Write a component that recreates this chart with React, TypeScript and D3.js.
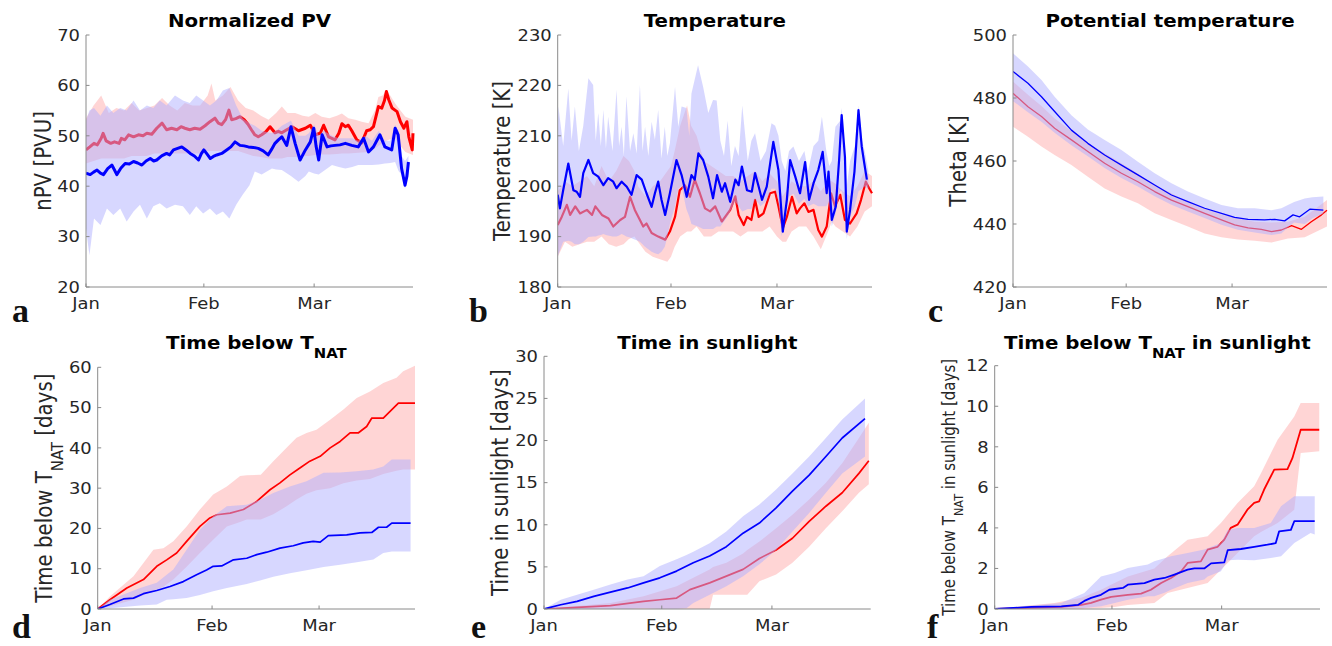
import React from 'react';
import * as d3 from 'd3';

type Pt = [number, number];
type Bd = [number, number, number];

// ---------------- shared axis data ----------------
const monthDays = [0, 31, 60];
const monthNames = ['Jan', 'Feb', 'Mar'];
const dayMax = 86;

// ---------------- a: Normalized PV ----------------
const pvTicks = [20, 30, 40, 50, 60, 70];
const pvRed: Pt[] = [[0,47.2],[1,47.8],[2.1,48.5],[3,48.2],[4,49.5],[4.5,50.5],[5.3,49],[6.5,48.5],[7.5,48.8],[8.7,48.5],[9.3,49.5],[10.2,49.2],[11.2,50.2],[12.5,49.8],[13.8,50.2],[15,50],[16,50.5],[17.3,50.3],[18.6,51.5],[20,52.5],[21.2,51.2],[22.5,51.5],[23.9,51.2],[25,51.8],[26,51.5],[27.3,51.2],[28.6,51.5],[30,51.3],[31.3,52],[32.6,52.8],[33.9,53.5],[34.8,52.5],[35.7,52.2],[36.7,53.2],[37.6,55.1],[38.3,53.2],[39.4,53.4],[40.5,53.8],[41.6,53.2],[42.6,52.3],[43.5,51.2],[44.4,50.2],[45.3,49.8],[46.2,50.2],[47.3,50.8],[48.4,51.8],[49.7,50.6],[50.6,50.9],[51.5,50.6],[52.8,51.2],[54.2,51.8],[55.9,51],[57.7,51.5],[59,52.1],[60.3,50.2],[61.6,50.5],[62.5,52.1],[63.8,49.8],[65.5,49.2],[66.5,50.5],[67.3,52.4],[68.2,51.8],[69,52.1],[69.9,51],[71.2,49.2],[72.5,48.6],[73.8,51],[74.7,51.2],[75.6,51.8],[76.9,55.8],[77.8,55.5],[78.5,57],[79,58.8],[79.6,57.2],[80.5,55.5],[81.8,54.8],[82.7,52.8],[83.6,51.5],[84.4,52.8],[84.9,49.8],[85.8,47.2],[86,50.5]];
const pvBlue: Pt[] = [[0,42.6],[1.1,42.3],[2,42.8],[2.9,43.2],[3.8,42.6],[4.6,42.3],[5.7,43.5],[6.8,44.2],[7.5,43.2],[8.1,42.3],[9.2,43.6],[10.3,44.5],[11.4,44.4],[12.5,44.9],[13.6,44.6],[14.7,44.2],[15.8,45],[16.9,45.5],[17.8,45],[18.6,45.2],[19.9,46],[21.2,46.5],[22,46.2],[23,47.2],[24.1,47.5],[25.2,47.8],[26.3,47.2],[27.4,46.5],[28.5,46],[29.6,45.2],[30.3,46.4],[31,47.2],[31.9,46.3],[32.7,45.5],[33.5,45.9],[34.4,46.2],[35.7,46.5],[37,47.2],[38.1,47.8],[39.2,48.8],[40.5,48.1],[41.6,48],[42.7,47.8],[44,47.7],[45.3,47.5],[46.6,47],[47.9,46.2],[48.8,47.3],[49.7,48.5],[50.6,49.2],[51.5,49.8],[52.8,48.1],[53.9,51.8],[55,48.5],[56.3,45.2],[57.7,47.2],[59,48.8],[59.9,51.5],[60.5,48],[61.2,45.2],[62.1,50.2],[63.4,47.8],[64.4,48],[65.5,48.1],[66.8,48.2],[68.2,48.5],[69.9,48.1],[71.6,47.8],[73,49.5],[74.3,46.8],[75.6,47.8],[77.3,50.2],[78.6,47.8],[79.5,47.5],[80.4,47.2],[81.3,51.5],[82.1,50.2],[83,43.5],[83.9,40.2],[84.4,42],[84.8,44.8]];
const pvRedBand: Bd[] = [[0,44.5,53.5],[2,45,56],[4,45.5,58],[6,45.5,54.5],[8,45.5,55.5],[10,45.5,55],[12,46,56.5],[14,46,55],[16,46,55.5],[18,46.5,56],[20,46.5,57.5],[22,46.5,56],[24,46.5,55],[26,46.5,56.5],[28,46.5,56],[30,46.5,56],[32,47,58],[33,47,60.4],[34,47,57],[36,47,58],[38,47,59.7],[40,47,57],[42,46.5,55.5],[44,46,55],[46,45.8,54],[48,45.5,53.2],[50,45.5,54.5],[51.5,45.5,55.8],[53,45.8,54.5],[55,45.8,54.5],[57,46,54],[58.6,46,53.8],[60.3,46.2,54.5],[62,46.3,53.8],[64,46.3,53.5],[66,46.4,54],[67.3,46.5,54.4],[69,46.5,53.5],[70.8,46.6,53.2],[72.5,46.7,52.8],[74.3,46.8,52.5],[76,47.5,55],[76.9,48,57.7],[78,48.5,58],[79,49,59],[80,49.3,58],[81.3,49.5,56.4],[82.7,48,55],[84,46.8,53.8],[85,46.5,53.5],[86,46.2,53.2]];
const pvBlueBand: Bd[] = [[0,31.6,53],[0.9,26.3,55],[2.1,33.6,55.5],[3.8,32.3,54],[5.5,35.6,56],[7.2,34.3,54.5],[9,35.6,55.5],[10.7,33,55],[12.5,35,57],[14.2,36.3,55],[16,33.6,56],[17.7,36,55.5],[19.4,36.6,57],[21.2,35.6,56],[23.4,36.3,58],[25.5,36,57],[27.3,34.3,56.5],[29,36,58],[30.8,34.6,57],[32.6,35.6,56],[34.3,34.3,57],[36,35,59],[37.7,33.6,59.5],[39.5,36.3,56],[41.2,38.3,53.5],[43,40.2,52.5],[44.4,42.9,52],[46.2,42.3,51],[48.9,43.5,50.5],[50,43.3,51],[51.5,43.2,52],[53.9,42,53],[55.9,40.9,50],[57.7,42,50],[58.6,42.9,50.5],[60,42.5,52.2],[61.2,42.3,50],[62.5,43,51],[64.7,44.2,50],[66.5,43.8,49.5],[68.2,43.5,49.5],[70,43.8,49.5],[71.6,44.2,49],[73.5,44.2,50],[75.2,44.2,49],[77,44.3,51],[78.6,44.5,49],[80,44.6,49],[81.3,44.8,52.2],[82.2,43,51],[83,42.3,46],[83.9,39.5,45],[84.8,42.3,46]];

// ---------------- b: Temperature ----------------
const tempTicks = [180, 190, 200, 210, 220, 230];
const tempRed: Pt[] = [[0,192.3],[1.1,193.9],[2.5,196.3],[3.4,194.3],[4.8,196],[6.1,194.6],[8,195.3],[9.4,194.3],[10.3,196],[12.1,194.3],[13.9,193.6],[15.2,192],[17.1,193.3],[18.4,193.9],[19.8,197.9],[21.1,195.3],[22.5,193.3],[23.4,192],[24.3,192.6],[25.7,190.7],[27.5,190],[29.4,189.4],[30.7,191],[32.1,193.9],[33.4,199.2],[34.8,200.2],[36.2,197.9],[37.5,201.3],[38.9,198.6],[40.3,195.6],[41.7,195],[43.1,196],[44.9,193],[47.2,195.3],[48.6,198],[49.5,194.3],[50.9,192.3],[51.8,193.9],[53,193.3],[54,197.3],[55,193.9],[56.3,194.6],[58.1,198.6],[59.5,198.9],[60.4,196],[61.6,191.7],[62.7,193.9],[64.1,197.9],[65.4,194.6],[66.3,195.6],[67.5,196.6],[68.6,194.9],[70,195.3],[71.3,191.3],[72.3,190],[73.6,192],[74.8,198.6],[75.9,196],[77.3,198.3],[78.6,193.3],[80,192.6],[81.8,194.6],[83,197.3],[84.3,200.9],[85.2,199.6],[86,198.6]];
const tempBlue: Pt[] = [[0,198.3],[0.6,195.6],[1.5,199.2],[2.9,204.5],[4.3,199.2],[5.2,198.9],[6.1,197.9],[7,202.6],[8.4,205.2],[9.7,202.6],[11.1,201.9],[12.5,200.2],[13.8,201.6],[15.2,200.9],[16.1,199.6],[17.5,200.9],[18.9,199.9],[20.2,198.3],[21.6,202.2],[23,201.3],[24.3,198.6],[25.7,195.9],[26.6,198.6],[27.5,200.9],[28.4,197.3],[29.4,194.3],[30.7,198.6],[32.5,205.2],[33.9,202.2],[35.3,197.9],[36.6,202.2],[37.5,201.3],[38.5,206.5],[39.8,205.2],[41.2,201.9],[42.5,197.6],[43.6,202.2],[44.9,198.9],[45.8,200.6],[47.2,196.9],[48.6,201.3],[49.5,200.2],[50.4,203.9],[51.8,199.2],[53.1,198.9],[54,202.6],[55,199.9],[55.9,197.3],[57.2,199.9],[59,208.8],[60.4,203.2],[61.6,191],[62.7,197.3],[63.6,205.2],[65,201.9],[66.3,198.6],[67.7,204.8],[68.8,197.3],[70,200.6],[71.3,203.2],[72.5,206.8],[73.6,198.6],[74.1,202.9],[75,193.3],[76.1,196],[77,205.2],[77.7,214.1],[78.6,205.8],[79.1,191],[80,195.3],[81.2,202.9],[82.3,215.1],[83.2,207.8],[83.9,204.5],[84.6,201.3]];
const tempRedBand: Bd[] = [[0,186,199],[2,189,201],[4,188,200],[6,188.5,201],[8,189,202],[10,189,200],[12,190,204],[14,188.5,201],[16,188,203],[18,188.5,206],[19.5,189.5,205],[21,190,203],[22,189,200],[24,187,198],[26,186,200],[28,185.5,201],[30,185,203],[31,186,204],[32,188,207],[33.5,190,212],[35.4,191,216],[36.5,191,212],[38,192,210],[40,190,205],[42,190,204],[44,191,203],[46,191,202],[48,191,202],[50,190,201],[52,191,202],[54,191,203],[56,191,201],[58,192,202.5],[60,190,201],[61.5,189,198],[62.5,189,199],[64,191,201],[66,192,200],[68,192,200],[70,190,201],[72,187.5,199],[74,191,201],[75,193,201],[76,192,200.5],[78,191,199],[80,190,198],[82,192,200],[84,195,203],[86,196,202]];
const tempBlueBand: Bd[] = [[0,186,212],[0.2,186.5,215.8],[1.5,189,208],[2.9,189.2,219.4],[3.8,189,209],[4.7,188.5,215.8],[5.8,188.5,207],[7,189,212],[8.4,189.9,221.4],[9.7,190,220.1],[10.4,190,209],[11.1,190.2,214.5],[11.8,190.3,208],[12.5,190.5,215.1],[13.2,190.3,207.5],[13.8,190.2,213.8],[15,190,207],[16.1,190,219.1],[16.8,190.2,208],[17.5,190.5,211.8],[18.1,190.3,206],[18.8,190,217.8],[19.8,189.8,207],[20.7,189.5,210.5],[21.6,189.3,206.5],[22.5,189,220.1],[23.2,188.5,207],[23.9,188,211.8],[24.8,187.5,206],[25.7,187,212.8],[26.6,186.7,209.2],[27.5,186.5,215.1],[28.4,187,205.5],[29.3,188,211.8],[30,190,206],[30.7,192.5,208.5],[32.1,196,219.7],[33,199.5,211.8],[33.9,200,215.8],[35.2,195.5,215.5],[36,194,210],[36.6,192.5,218.4],[38.4,192,224],[39.8,191.5,219.7],[41.2,191.5,214.5],[42.5,191.5,217.1],[43.5,192,217],[44.5,192,209],[45.5,193,206],[46.5,194,213],[47.5,195.5,204],[48.5,197,208],[49.5,196,206],[50.5,195,216],[52,195.5,205],[53,195.5,209],[54,197.5,210.5],[55.5,196,205],[57,197,207],[58.5,199.5,212.5],[59.5,199.5,212],[60.4,197,210],[61.3,190,205],[62.3,194.5,203],[63.3,198,207],[64.5,198.5,207.9],[66,196.5,205],[67.5,197.5,207],[68.5,196,203],[70,196.5,208],[71.3,196,209],[72.3,196,213.8],[73.5,196,207],[74.3,197,204],[75,192,205],[76,194.5,211.8],[77.3,199,213],[77.7,199,215.5],[78.6,196,206],[79.1,189.5,200],[80,194,205],[81.3,196,208],[82.3,199,216],[83.3,199.5,209],[84,200,207],[85,199.5,203]];

// ---------------- c: Potential temperature ----------------
const thetaTicks = [420, 440, 460, 480, 500];
const thetaRed: Pt[] = [[0,481.5],[4.1,477.2],[7.8,474.1],[11.4,470.4],[16,466.7],[20.5,463],[25.1,459.3],[29.7,456.1],[34.2,453.4],[38.8,450.3],[43.4,447.6],[47.9,445.5],[52.5,443.4],[57.1,441.3],[60.7,439.7],[64.4,438.8],[68,438.3],[70.8,437.6],[73.5,438.1],[76.3,439.5],[79,438.3],[81.7,440.7],[84.5,442.9],[86,444.4]];
const thetaBlue: Pt[] = [[0,488.4],[4.1,484.7],[7.8,480.4],[11.4,475.7],[16,469.8],[20.5,465.6],[25.1,461.9],[29.7,458.7],[34.2,455.6],[38.8,452.4],[43.4,449.2],[47.9,447.1],[52.5,445],[57.1,443.4],[60.7,442.1],[64.4,441.5],[68.9,441.3],[71.7,441.5],[74.4,441],[76.7,442.9],[78.5,442.3],[81.3,444.7],[85,444.4]];
const thetaRedBand: Bd[] = [[0,470.9,485.2],[4.1,467.7,481],[7.8,464.6,477.5],[11.4,461.9,473.5],[16,458.7,469.5],[20.5,455,465.6],[25.1,451.3,462.5],[29.7,448.7,459.3],[34.2,446.6,456],[38.8,443.4,452.4],[43.4,441.3,449.8],[47.9,439.2,447.1],[52.5,437,445],[57.1,435.8,442.9],[61.6,435.1,441.8],[66.2,434.7,440.7],[70.8,434.1,440.5],[75.3,435.4,440.7],[79.9,435.8,442.3],[86,439.2,447.6]];
const thetaBlueBand: Bd[] = [[0,479,494.2],[4.1,475.5,490],[7.8,472.5,485.7],[11.4,469,480.4],[16,465,474.5],[20.5,461.5,470],[25.1,457.8,466.7],[29.7,454.6,463.5],[34.2,451.9,459.8],[38.8,448.8,456.1],[43.4,446.1,452.9],[47.9,444,450.3],[52.5,441.9,448.1],[57.1,439.8,446],[61.6,438.2,445],[66.2,437.3,445],[70.8,436.5,444.4],[73.5,437,445],[75.3,439,446],[77,440.5,447],[79.9,440,448.1],[82,441.8,448.5],[85,443.3,448.7]];

// ---------------- d: Time below T_NAT ----------------
const tnatTicks = [0, 10, 20, 30, 40, 50, 60];
const tnatRed: Pt[] = [[0,0],[3.3,2.3],[7.9,5.2],[12.4,7.3],[16,10.6],[18.7,12.2],[21.4,13.9],[24.1,16.8],[27.7,20.5],[30.4,22.6],[32.3,23.4],[35.9,23.8],[39.5,24.7],[43.1,26.7],[46.7,29.6],[49.4,31.3],[52.1,33.3],[54.8,35],[57.5,36.7],[60.3,37.9],[63,40],[65.7,41.6],[68.4,43.7],[70.6,43.7],[72.9,45.3],[74.3,47.4],[77.4,47.4],[81.5,51.1],[86,51.1]];
const tnatBlue: Pt[] = [[0,0],[3.3,1.1],[7,2.5],[9.7,2.7],[12.4,3.8],[16,4.6],[19.6,5.6],[23.2,6.8],[26.8,8.5],[29.5,9.7],[31.3,10.6],[33.6,10.7],[36.8,12.2],[40.4,12.6],[43.1,13.5],[45.8,14.1],[49.4,15.1],[53,15.7],[55.7,16.4],[58.4,16.8],[60.3,16.6],[62.5,18.2],[67.5,18.4],[71.1,18.9],[74.3,19],[76.1,20.3],[78.3,20.3],[79.7,21.3],[84.8,21.3]];
const tnatRedBand: Bd[] = [[0,0,0],[3.3,0.7,3.1],[9.7,2.3,8.1],[15.1,4.5,14.7],[17.8,5.5,15.1],[20.5,7.3,16.8],[24.1,10.5,20.5],[27.7,13.9,24.7],[31.3,17.2,28.4],[35,20.5,30.4],[38.6,21.6,33],[40.4,22.2,33.2],[44.2,22.2,33.3],[47.6,23.5,36.7],[51.2,25.5,40],[53.9,27.2,42.5],[56.6,28.6,43.7],[59.3,29.5,44.5],[63,30,47],[66.6,31.2,49.5],[70.2,31.9,52.4],[73.8,32.3,54],[77.4,33.5,56.1],[81,34.3,57.4],[82.8,34.6,59],[86,34.6,60.4]];
const tnatBlueBand: Bd[] = [[0,0,0],[3.3,0.2,2.3],[7,0.5,3.6],[11.5,0.9,5.2],[16,1.1,6.5],[18.7,2.3,8.5],[20.5,2.4,9.8],[24.1,2.7,14.7],[27.7,3.5,19.7],[31.3,4.4,23],[35,5.2,25.5],[40.4,6.2,25.9],[44,7.1,27.1],[47.6,8,28.8],[52.1,8.9,30.4],[56.6,9.6,31.7],[61.2,10.4,33.8],[65.7,11,33.9],[70.2,11.6,34.2],[74.7,12.3,34.6],[77.4,13.9,35.4],[79.7,14.3,37.1],[84.8,14.3,37.1]];

// ---------------- e: Time in sunlight ----------------
const sunTicks = [0, 5, 10, 15, 20, 25, 30];
const sunRed: Pt[] = [[0,0],[8.7,0.2],[17.5,0.4],[26.2,0.9],[30.5,1.1],[34.9,1.3],[38.4,2.3],[43.6,3.1],[48,3.9],[52.4,4.7],[56.7,6],[61.1,7],[65.4,8.4],[69.8,10.4],[74.2,12.2],[78.5,13.8],[82.9,16.1],[85.5,17.6]];
const sunBlue: Pt[] = [[0,0],[4.4,0.5],[8.7,0.9],[13.1,1.5],[17.5,2],[22,2.5],[26.2,3.1],[30.5,3.7],[34.9,4.5],[39.3,5.5],[43.6,6.3],[48,7.4],[52.4,9],[56.7,10.2],[61.1,12],[65.4,14],[69.8,15.9],[74.2,18.1],[78.5,20.3],[84.5,22.6]];
const sunRedBand: Bd[] = [[0,0,0],[17.5,0,0.7],[26.2,0,1.5],[34.9,0,2.7],[39.3,0,3.7],[43.6,0,4.7],[44.5,1.7,5],[48,1.7,5.5],[52.4,1.7,6.6],[53.5,1.7,7],[56.7,3.3,8],[61.1,4.1,9.6],[65.4,5.5,11.2],[69.8,7.4,13],[74.2,9.6,15],[78.5,11.6,17.3],[82.9,13.8,20.3],[85.5,14.8,22.1]];
const sunBlueBand: Bd[] = [[0,0,0],[4.4,0,1.1],[8.7,0,1.7],[13.1,0,2.3],[17.5,0,2.9],[22,0,3.5],[26.2,0.1,3.9],[30.5,0,5.1],[34.9,0,5.9],[37.5,0.1,6.4],[39.3,0.7,6.8],[43.6,1.7,7.8],[48,2.7,9.2],[52.4,3.9,11],[56.7,5.3,12.4],[61.1,7,14.2],[65.4,9.2,16.1],[69.8,11.4,18.1],[74.2,13.8,20.3],[78.5,16.1,22.5],[84.5,18.1,25]];

// ---------------- f: Time below T_NAT in sunlight ----------------
const sunTnatTicks = [0, 2, 4, 6, 8, 10, 12];
const sunTnatRed: Pt[] = [[0,0],[17.6,0.1],[22.9,0.2],[25.5,0.3],[28.1,0.46],[30.8,0.6],[35.2,0.7],[38.7,0.76],[41.3,0.95],[44,1.28],[46.6,1.53],[49.3,1.86],[51,2.27],[54.5,2.35],[56.3,2.93],[58.9,3.06],[60.7,3.42],[62.4,4],[64.2,4.16],[66.8,4.9],[68.6,5.23],[69.9,5.31],[71.2,5.88],[73.9,6.87],[77.4,6.9],[78.7,7.44],[80.9,8.84],[85.8,8.84]];
const sunTnatBlue: Pt[] = [[0,0],[9.7,0.1],[17.6,0.13],[22,0.2],[23.7,0.4],[25.5,0.55],[28.1,0.7],[30.3,0.95],[33.9,1.04],[35.2,1.2],[39.6,1.28],[42.2,1.45],[44.9,1.53],[47.5,1.7],[51,1.94],[52.8,2],[55.4,2],[57.2,2.25],[60.7,2.3],[61.6,2.9],[65.1,2.96],[68.6,3.06],[72.1,3.17],[74.3,3.25],[75.2,3.83],[78.3,3.9],[79.2,4.33],[84.6,4.33]];
const sunTnatRedBand: Bd[] = [[0,0,0],[15.8,0,0.3],[22.9,0,0.55],[28.1,0.05,0.95],[31.7,0.1,1.28],[35.2,0.2,1.6],[42.2,0.3,2],[45.7,0.79,2.6],[51,1.04,3.42],[56.3,1.28,3.59],[59.8,1.94,4.24],[64.2,2.76,5.23],[68.6,3.59,6.05],[70.4,3.8,6.7],[74.8,4.24,8.35],[79.2,4.9,9.5],[80.9,7.7,10.16],[85.8,7.78,10.16]];
const sunTnatBlueBand: Bd[] = [[0,0,0],[17.6,0,0.3],[23.7,0.05,0.79],[28.1,0.13,1.6],[31.7,0.3,1.78],[35.2,0.46,2.02],[40.5,0.63,2.2],[42.2,0.63,2.35],[44.9,0.8,2.5],[46.6,0.95,2.6],[51,1.28,2.76],[55.4,1.45,2.93],[56.3,1.6,3],[59.8,1.86,3.26],[61.6,2.4,3.9],[64.2,2.43,4],[68.6,2.4,4],[73,2.52,4.24],[75.7,2.6,5.07],[79.2,3.26,5.56],[83.5,3.75,5.56],[84.6,3.67,5.56]];

// ---------------- styling / layout ----------------
const FONT = '"DejaVu Sans", sans-serif';
const SX = 1.12;
const RED = '#ff0000';
const BLUE = '#0000ff';
const RED_FILL = 'rgb(255,172,172)';
const BLUE_FILL = 'rgb(176,176,255)';
const FILL_OP = 0.5;
const AXIS_COLOR = '#8a8a8a';
const TICK_TEXT = '#262626';

type TitlePart = [string, boolean];

interface PanelSpec {
  letter: string;
  title: TitlePart[];
  ylabel: TitlePart[];
  ylabelSize: number;
  yTicks: number[];
  red: Pt[]; blue: Pt[]; redBand: Bd[]; blueBand: Bd[];
  lw: number;
  x0: number; x1: number; y0: number; y1: number;
  titleY: number; ylabX: number; letterX: number; letterY: number;
}

const panels: PanelSpec[] = [
  { letter: 'a', title: [['Normalized PV', false]], ylabel: [['nPV [PVU]', false]], ylabelSize: 19.8, yTicks: pvTicks,
    red: pvRed, blue: pvBlue, redBand: pvRedBand, blueBand: pvBlueBand, lw: 3,
    x0: 86, x1: 413, y0: 35, y1: 287, titleY: 27.3, ylabX: 51, letterX: 12, letterY: 322 },
  { letter: 'b', title: [['Temperature', false]], ylabel: [['Temperature [K]', false]], ylabelSize: 19.8, yTicks: tempTicks,
    red: tempRed, blue: tempBlue, redBand: tempRedBand, blueBand: tempBlueBand, lw: 2.2,
    x0: 557.7, x1: 872, y0: 35, y1: 287, titleY: 27.3, ylabX: 510, letterX: 469, letterY: 322 },
  { letter: 'c', title: [['Potential temperature', false]], ylabel: [['Theta [K]', false]], ylabelSize: 19.8, yTicks: thetaTicks,
    red: thetaRed, blue: thetaBlue, redBand: thetaRedBand, blueBand: thetaBlueBand, lw: 1.3,
    x0: 1013, x1: 1327, y0: 35, y1: 287, titleY: 27.3, ylabX: 966, letterX: 928, letterY: 322 },
  { letter: 'd', title: [['Time below T', false], ['NAT', true]], ylabel: [['Time below T', false], ['NAT', true], [' [days]', false]], ylabelSize: 19.8, yTicks: tnatTicks,
    red: tnatRed, blue: tnatBlue, redBand: tnatRedBand, blueBand: tnatBlueBand, lw: 1.7,
    x0: 97.7, x1: 415, y0: 367.3, y1: 609, titleY: 349, ylabX: 52, letterX: 12, letterY: 638 },
  { letter: 'e', title: [['Time in sunlight', false]], ylabel: [['Time in sunlight [days]', false]], ylabelSize: 19.8, yTicks: sunTicks,
    red: sunRed, blue: sunBlue, redBand: sunRedBand, blueBand: sunBlueBand, lw: 1.7,
    x0: 544, x1: 870.7, y0: 356.3, y1: 609, titleY: 349, ylabX: 508, letterX: 471, letterY: 638 },
  { letter: 'f', title: [['Time below T', false], ['NAT', true], [' in sunlight', false]], ylabel: [['Time below T', false], ['NAT', true], [' in sunlight [days]', false]], ylabelSize: 15, yTicks: sunTnatTicks,
    red: sunTnatRed, blue: sunTnatBlue, redBand: sunTnatRedBand, blueBand: sunTnatBlueBand, lw: 1.8,
    x0: 994.7, x1: 1320, y0: 365.7, y1: 609, titleY: 349, ylabX: 955, letterX: 927, letterY: 638 },
];

function renderParts(parts: TitlePart[], size: number) {
  const subSize = size * 0.75;
  const shift = size * 0.5;
  let inSub = false;
  return parts.map(([txt, sub], i) => {
    let dy = 0;
    if (sub && !inSub) dy = shift;
    if (!sub && inSub) dy = -shift;
    inSub = sub;
    return (
      <tspan key={i} dy={dy || undefined} fontSize={sub ? subSize : size} style={{ whiteSpace: 'pre' }}>{txt}</tspan>
    );
  });
}

function Panel({ p, idx }: { p: PanelSpec; idx: number }) {
  const x = d3.scaleLinear().domain([0, dayMax]).range([p.x0, p.x1]);
  const yExt = d3.extent(p.yTicks) as [number, number];
  const y = d3.scaleLinear().domain(yExt).range([p.y1, p.y0]);
  const line = d3.line<Pt>().x(d => x(d[0])).y(d => y(d[1]));
  const area = d3.area<Bd>().x(d => x(d[0])).y0(d => y(d[1])).y1(d => y(d[2]));
  const clipId = `clip-${idx}`;
  const cx = (p.x0 + p.x1) / 2;
  const cy = (p.y0 + p.y1) / 2;
  const tl = 3.5;
  return (
    <g>
      <defs>
        <clipPath id={clipId}>
          <rect x={p.x0} y={p.y0 - 2} width={p.x1 - p.x0 + 2} height={p.y1 - p.y0 + 2} />
        </clipPath>
      </defs>
      <g clipPath={`url(#${clipId})`}>
        <path d={area(p.redBand) || ''} fill={RED_FILL} fillOpacity={FILL_OP} stroke="none" />
        <path d={line(p.red) || ''} fill="none" stroke={RED} strokeWidth={p.lw} strokeLinejoin="round" />
        <path d={area(p.blueBand) || ''} fill={BLUE_FILL} fillOpacity={FILL_OP} stroke="none" />
        <path d={line(p.blue) || ''} fill="none" stroke={BLUE} strokeWidth={p.lw} strokeLinejoin="round" />
      </g>
      <line x1={p.x0} x2={p.x0} y1={p.y0} y2={p.y1} stroke={AXIS_COLOR} strokeWidth={1} />
      <line x1={p.x0} x2={p.x1} y1={p.y1} y2={p.y1} stroke={AXIS_COLOR} strokeWidth={1} />
      {p.yTicks.map(t => (
        <g key={`y${t}`}>
          <line x1={p.x0} x2={p.x0 + tl} y1={y(t)} y2={y(t)} stroke={AXIS_COLOR} strokeWidth={1} />
          <text transform={`translate(${p.x0 - 6},${y(t)}) scale(${SX},1)`} textAnchor="end" dy="0.36em"
            fontFamily={FONT} fontSize={16} fill={TICK_TEXT}>{t}</text>
        </g>
      ))}
      {monthDays.map((m, i) => (
        <g key={`x${m}`}>
          <line x1={x(m)} x2={x(m)} y1={p.y1} y2={p.y1 - tl} stroke={AXIS_COLOR} strokeWidth={1} />
          <text transform={`translate(${x(m)},${p.y1 + 22}) scale(${SX},1)`} textAnchor="middle"
            fontFamily={FONT} fontSize={16} fill={TICK_TEXT}>{monthNames[i]}</text>
        </g>
      ))}
      <text transform={`translate(${cx},${p.titleY}) scale(1.1,1)`} textAnchor="middle" fontFamily={FONT}
        fontWeight="bold" fontSize={18} fill="#000">{renderParts(p.title, 18)}</text>
      <text transform={`translate(${p.ylabX},${cy}) scale(${SX},1) rotate(-90)`} textAnchor="middle" fontFamily={FONT}
        fontSize={p.ylabelSize} fill={TICK_TEXT}>{renderParts(p.ylabel, p.ylabelSize)}</text>
      <text x={p.letterX} y={p.letterY} fontFamily='"Liberation Serif", "DejaVu Serif", serif' fontWeight="bold"
        fontSize={34} fill="#111">{p.letter}</text>
    </g>
  );
}

export default function App() {
  return (
    <svg width={1332} height={646} viewBox="0 0 1332 646"
      style={{ position: 'absolute', left: 0, top: 0, background: '#fff' }}>
      <rect x={0} y={0} width={1332} height={646} fill="#fff" />
      {panels.map((p, i) => <Panel key={p.letter} p={p} idx={i} />)}
    </svg>
  );
}
